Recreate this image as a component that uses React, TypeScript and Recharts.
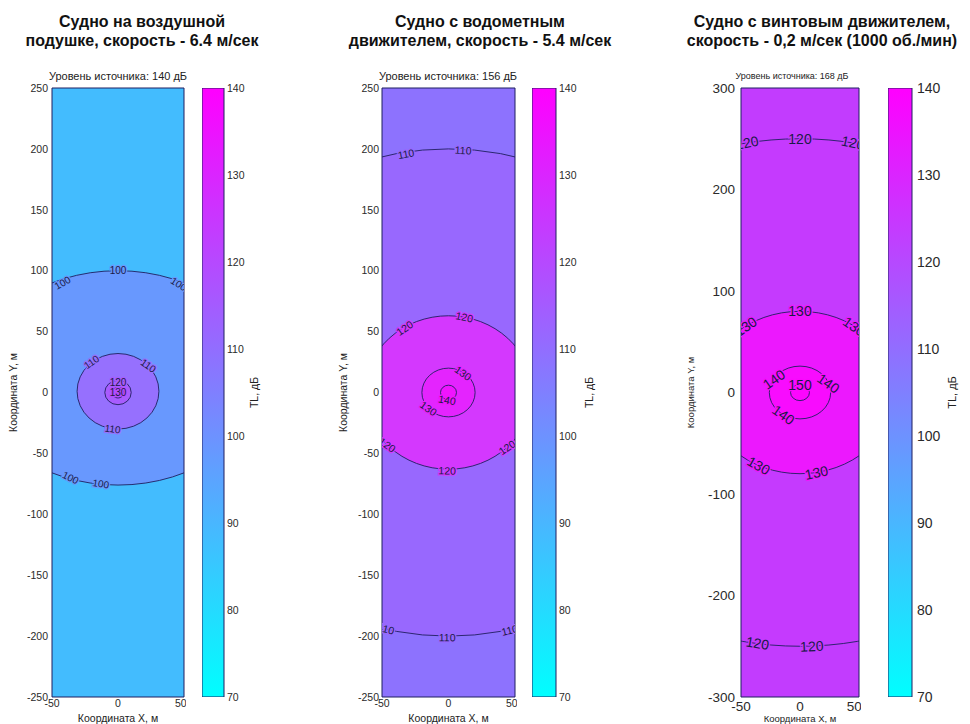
import React from 'react';
import { ScatterChart, BarChart, Bar, XAxis, YAxis, ReferenceArea, ReferenceDot } from 'recharts';

// ---- data ----
const xTicks = [-50, 0, 50];
const yTicks250 = [-250, -200, -150, -100, -50, 0, 50, 100, 150, 200, 250];
const yTicks300 = [-300, -200, -100, 0, 100, 200, 300];
const cbTicks = [70, 80, 90, 100, 110, 120, 130, 140];
const cbData = [{ k: 'TL', span: [70, 140] }];

const titles = [
  ['Судно на воздушной', 'подушке, скорость - 6.4 м/сек'],
  ['Судно с водометным', 'движителем, скорость - 5.4 м/сек'],
  ['Судно с винтовым движителем,', 'скорость - 0,2 м/сек (1000 об./мин)'],
];
const sourceLevels = [140, 156, 168];

// contours: level, half-width (m), top and bottom extent (m)
const airLevels = [100, 110, 120, 130];
const airRx = [108, 31, 10, 4.5];
const airTop = [100, 32, 10, 4.5];
const airBottom = [-76, -30, -10, -4.5];
const airLabels = [
  { v: 100, x: 0, y: 100 }, { v: 100, x: -42, y: 90 }, { v: 100, x: 46, y: 89 },
  { v: 100, x: -36, y: -70 }, { v: 100, x: -13, y: -75 },
  { v: 110, x: -20, y: 25 }, { v: 110, x: 23, y: 22 }, { v: 110, x: -4, y: -30 },
  { v: 120, x: 0, y: 8 }, { v: 130, x: 0, y: 0 },
];

const jetLevels = [110, 120, 130, 140];
const jetRx = [200, 63, 20, 6];
const jetTop = [200, 63, 20, 6];
const jetBottom = [-200, -63, -20, -6];
const jetLabels = [
  { v: 110, x: -32, y: 196 }, { v: 110, x: 11, y: 199 }, { v: 110, x: -47, y: -194 },
  { v: 110, x: -1, y: -201 }, { v: 110, x: 46, y: -195 },
  { v: 120, x: -33, y: 53 }, { v: 120, x: 12, y: 62 }, { v: 120, x: -46, y: -43 },
  { v: 120, x: 44, y: -45 }, { v: 120, x: -1, y: -64 },
  { v: 130, x: 11, y: 16 }, { v: 130, x: -15, y: -13 }, { v: 140, x: -1, y: -6 },
];

const screwLevels = [120, 130, 140, 150];
const screwRx = [250, 80, 26, 8];
const screwTop = [250, 80, 26, 8];
const screwBottom = [-250, -80, -26, -8];
const screwLabels = [
  { v: 120, x: -45, y: 246 }, { v: 120, x: 0, y: 250 }, { v: 120, x: 45, y: 246 },
  { v: 120, x: -36, y: -247 }, { v: 120, x: 10, y: -250 },
  { v: 130, x: 0, y: 80 }, { v: 130, x: -46, y: 65 }, { v: 130, x: 46, y: 65 },
  { v: 130, x: -35, y: -72 }, { v: 130, x: 14, y: -79 },
  { v: 140, x: -22, y: 13 }, { v: 140, x: 24, y: 9 }, { v: 140, x: -14, y: -22 },
  { v: 150, x: 0, y: 7 },
];

// ---- layout / style ----
const FONT = '"Liberation Sans", Arial, sans-serif';
const H = 724;
const TOP = 88;
const BOTTOM = 697;
const LINE = '#1f1f60';

const cfgs = [
  {
    left: 0, plotL: 52, plotR: 184, cbL: 202, cbR: 224, cbAxisW: 40,
    tickFs: 10.5, yTickGap: 4, xTickGap: 3, yLabelX: 13, axisLabelFs: 10.5, xLabelOff: 2,
    cbFs: 10.5, cbGap: 3, tlX: 254, tlFs: 10.5, titleX: 142, srcX: 118, srcFs: 11, srcTop: 71,
    labelFs: 10, grad: 'cool1',
    base: '#43bcfe', fills: { 100: '#6898fe', 110: '#9670fe', 120: '#a85cfe', 130: '#b44cfe' } as Record<number, string>,
  },
  {
    left: 330, plotL: 382, plotR: 515, cbL: 532, cbR: 556, cbAxisW: 40,
    tickFs: 10.5, yTickGap: 3, xTickGap: 3, yLabelX: 343, axisLabelFs: 10.5, xLabelOff: 2,
    cbFs: 10.5, cbGap: 3, tlX: 589, tlFs: 10.5, titleX: 480, srcX: 448, srcFs: 11, srcTop: 71,
    labelFs: 10.5, grad: 'cool2',
    base: '#8d72fe', fills: { 110: '#9868fe', 120: '#d438fe', 130: '#e424fe', 140: '#f014fe' } as Record<number, string>,
  },
  {
    left: 680, plotL: 741, plotR: 859, cbL: 888, cbR: 912, cbAxisW: 50,
    tickFs: 13.5, yTickGap: 6, xTickGap: 4, yLabelX: 691, axisLabelFs: 9.5, xLabelOff: 2,
    cbFs: 14, cbGap: 5, tlX: 952, tlFs: 11, titleX: 822, srcX: 792, srcFs: 9, srcTop: 72,
    labelFs: 14, grad: 'cool3',
    base: '#c23cfe', fills: { 120: '#c53afe', 130: '#ec18fe', 140: '#f80cfe', 150: '#fc06fe' } as Record<number, string>,
  },
];

const ellipse = (p: any) => (
  <ellipse
    cx={p.x + p.width / 2}
    cy={p.y + p.height / 2}
    rx={Math.abs(p.width) / 2}
    ry={Math.abs(p.height) / 2}
    fill={p.fill}
    stroke={p.stroke}
    strokeWidth={p.strokeWidth}
    clipPath={p.clipPath}
  />
);

const contourLabel = (text: string, angle: number, fs: number, halo: string) => (p: any) => (
  <g clipPath={p.clipPath}>
    <text
      x={p.cx}
      y={p.cy}
      transform={`rotate(${angle} ${p.cx} ${p.cy})`}
      textAnchor="middle"
      dominantBaseline="central"
      fontSize={fs}
      fontFamily={FONT}
      fill="#1a1a48"
      stroke={halo}
      strokeWidth={2.5}
      paintOrder="stroke"
    >
      {text}
    </text>
  </g>
);

function Panel({ idx, yTicks, levels, rx, top, bottom, labels }: any) {
  const cfg = cfgs[idx];
  const yMax = yTicks[yTicks.length - 1];
  const sx = (cfg.plotR - cfg.plotL) / 100;
  const sy = (BOTTOM - TOP) / (2 * yMax);
  const tick = { fontSize: cfg.tickFs, fill: '#2a2a2a', fontFamily: FONT };
  const cbTick = { fontSize: cfg.cbFs, fill: '#2a2a2a', fontFamily: FONT };
  const yAxisW = cfg.plotL - cfg.left;

  // orient each contour label along its ring (measured from the ring centre)
  const angleOf = (l: any) => {
    const i = levels.indexOf(l.v);
    const cy = (top[i] + bottom[i]) / 2;
    const dx = l.x;
    const dy = l.y - cy;
    if (Math.hypot(dx, dy) < 1) return 0;
    let a = (Math.atan2(-dy * sy, dx * sx) * 180) / Math.PI + 90;
    if (a > 90) a -= 180;
    if (a < -90) a += 180;
    return Math.max(-35, Math.min(35, a));
  };

  return (
    <>
      <div
        style={{
          position: 'absolute', left: cfg.titleX, top: 12, transform: 'translateX(-50%)',
          font: `bold 16px ${FONT}`, lineHeight: '19px', textAlign: 'center', whiteSpace: 'nowrap', color: '#111',
        }}
      >
        {titles[idx][0]}
        <br />
        {titles[idx][1]}
      </div>
      <div
        style={{
          position: 'absolute', left: cfg.srcX, top: cfg.srcTop, transform: 'translateX(-50%)',
          fontFamily: FONT, fontSize: cfg.srcFs, lineHeight: `${cfg.srcFs}px`, whiteSpace: 'nowrap', color: '#222',
        }}
      >
        Уровень источника: {sourceLevels[idx]} дБ
      </div>

      <div style={{ position: 'absolute', left: cfg.left, top: 0 }}>
        <ScatterChart width={cfg.plotR - cfg.left + 2} height={H} margin={{ top: TOP, right: 2, bottom: 0, left: 0 }}>
          <ReferenceArea x1={-50} x2={50} y1={-yMax} y2={yMax} fill={cfg.base} fillOpacity={1} stroke="none" />
          {levels.map((lv: number, i: number) => (
            <ReferenceArea
              key={lv}
              x1={-rx[i]}
              x2={rx[i]}
              y1={bottom[i]}
              y2={top[i]}
              ifOverflow="hidden"
              fill={cfg.fills[lv]}
              stroke={LINE}
              strokeWidth={0.9}
              shape={ellipse}
            />
          ))}
          {labels.map((l: any, i: number) => (
            <ReferenceDot
              key={i}
              x={l.x}
              y={l.y}
              r={0}
              ifOverflow="hidden"
              shape={contourLabel(String(l.v), angleOf(l), cfg.labelFs, cfg.fills[l.v])}
            />
          ))}
          <XAxis
            type="number" dataKey="x" domain={[-50, 50]} ticks={xTicks} allowDataOverflow
            height={H - BOTTOM} axisLine={false} tickLine={false} tickSize={0} tickMargin={cfg.xTickGap} tick={tick}
            label={{ value: 'Координата X, м', position: 'insideBottom', offset: cfg.xLabelOff, fontSize: cfg.axisLabelFs, fill: '#222', fontFamily: FONT }}
          />
          <YAxis
            type="number" dataKey="y" domain={[-yMax, yMax]} ticks={yTicks} allowDataOverflow
            width={yAxisW} axisLine={false} tickLine={false} tickSize={0} tickMargin={cfg.yTickGap} tick={tick}
            label={{
              value: 'Координата Y, м', angle: -90, position: 'insideLeft', offset: cfg.yLabelX - cfg.left,
              fontSize: cfg.axisLabelFs, fill: '#222', fontFamily: FONT, style: { textAnchor: 'middle' },
            }}
          />
          <XAxis xAxisId="t" orientation="top" mirror type="number" domain={[-50, 50]} ticks={xTicks} allowDataOverflow
            tick={false} tickSize={5} axisLine={{ stroke: LINE }} tickLine={{ stroke: LINE }} />
          <XAxis xAxisId="b" orientation="bottom" mirror type="number" domain={[-50, 50]} ticks={xTicks} allowDataOverflow
            tick={false} tickSize={5} axisLine={{ stroke: LINE }} tickLine={{ stroke: LINE }} />
          <YAxis yAxisId="l" orientation="left" mirror type="number" domain={[-yMax, yMax]} ticks={yTicks} allowDataOverflow
            tick={false} tickSize={5} axisLine={{ stroke: LINE }} tickLine={{ stroke: LINE }} />
          <YAxis yAxisId="r" orientation="right" mirror type="number" domain={[-yMax, yMax]} ticks={yTicks} allowDataOverflow
            tick={false} tickSize={5} axisLine={{ stroke: LINE }} tickLine={{ stroke: LINE }} />
        </ScatterChart>
      </div>

      <div style={{ position: 'absolute', left: cfg.cbL, top: 0 }}>
        <BarChart
          width={cfg.cbR - cfg.cbL + cfg.cbAxisW}
          height={H}
          data={cbData}
          margin={{ top: TOP, right: 0, bottom: H - BOTTOM, left: 0 }}
          barCategoryGap={0}
        >
          <defs>
            <linearGradient id={cfg.grad} x1="0" y1="1" x2="0" y2="0">
              <stop offset="0%" stopColor="#00ffff" />
              <stop offset="100%" stopColor="#ff00ff" />
            </linearGradient>
          </defs>
          <XAxis dataKey="k" hide />
          <YAxis
            orientation="right" type="number" domain={[70, 140]} ticks={cbTicks} allowDataOverflow
            width={cfg.cbAxisW} axisLine={false} tickLine={false} tickSize={0} tickMargin={cfg.cbGap} tick={cbTick}
            label={{
              value: 'TL, дБ', angle: -90, position: 'insideRight', offset: cfg.cbR + cfg.cbAxisW - cfg.tlX,
              fontSize: cfg.tlFs, fill: '#222', fontFamily: FONT, style: { textAnchor: 'middle' },
            }}
          />
          <YAxis yAxisId="l" orientation="left" mirror type="number" domain={[70, 140]} ticks={cbTicks} allowDataOverflow
            tick={false} tickSize={4} axisLine={false} tickLine={{ stroke: LINE }} />
          <YAxis yAxisId="r" orientation="right" mirror type="number" domain={[70, 140]} ticks={cbTicks} allowDataOverflow
            tick={false} tickSize={4} axisLine={false} tickLine={{ stroke: LINE }} />
          <Bar dataKey="span" fill={`url(#${cfg.grad})`} stroke={LINE} strokeWidth={1} isAnimationActive={false} />
        </BarChart>
      </div>
    </>
  );
}

export default function App() {
  return (
    <div style={{ position: 'absolute', left: 0, top: 0, width: 970, height: H, background: '#fff', overflow: 'hidden' }}>
      <Panel idx={0} yTicks={yTicks250} levels={airLevels} rx={airRx} top={airTop} bottom={airBottom} labels={airLabels} />
      <Panel idx={1} yTicks={yTicks250} levels={jetLevels} rx={jetRx} top={jetTop} bottom={jetBottom} labels={jetLabels} />
      <Panel idx={2} yTicks={yTicks300} levels={screwLevels} rx={screwRx} top={screwTop} bottom={screwBottom} labels={screwLabels} />
    </div>
  );
}
